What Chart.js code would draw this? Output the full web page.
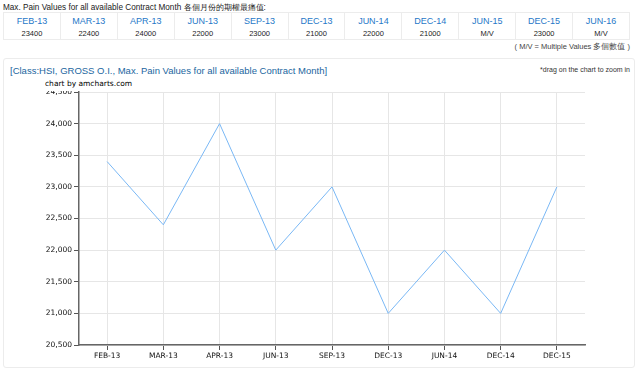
<!DOCTYPE html>
<html>
<head>
<meta charset="utf-8">
<script src="https://cdn.jsdelivr.net/npm/chart.js@4"></script>
<style>
  body { margin: 0; width: 640px; height: 374px; background: #fff; font-family: "Liberation Sans", Arial, sans-serif; position: relative; overflow: hidden; }
  .head { position: absolute; left: 3px; top: 2px; font-size: 8.2px; color: #222; }
  table.mp { position: absolute; left: 3px; top: 12px; width: 627px; border-collapse: collapse; table-layout: fixed; }
  table.mp td { border: 1px solid #ececec; text-align: center; padding: 0; }
  table.mp tr.hd td { color: #1f78c8; font-size: 9px; border-bottom: none; height: 13px; line-height: 13px; padding-top: 2px; }
  table.mp tr.vl td { color: #222; font-size: 7.5px; border-top: none; height: 10px; line-height: 9px; padding-bottom: 1px; }
  .note { position: absolute; right: 10px; top: 42px; font-size: 7.5px; color: #444; }
  .panel { position: absolute; left: 3px; top: 58px; width: 632px; height: 310px; border: 1px solid #ececec; border-radius: 3px; box-sizing: border-box; }
  .title { position: absolute; left: 10px; top: 65px; font-size: 9.5px; color: #2266a0; }
  .drag { position: absolute; right: 10px; top: 66px; font-size: 7px; color: #333; }
  .credit { position: absolute; left: 45px; top: 79px; font-size: 7.5px; line-height: 9px; color: #000; font-family: "DejaVu Sans", Verdana, sans-serif; background: #fff; padding: 0 2px 3px 0; z-index: 2; }
  #wrap { position: absolute; left: 0; top: 80px; width: 600px; height: 290px; }
</style>
</head>
<body>
<div class="head">Max. Pain Values for all available Contract Month 各個月份的期權最痛值:</div>
<table class="mp">
  <tr class="hd" id="hdRow"></tr>
  <tr class="vl" id="vlRow"></tr>
</table>
<div class="note">( M/V = Multiple Values 多個數值 )</div>
<div class="panel"></div>
<div class="title">[Class:HSI, GROSS O.I., Max. Pain Values for all available Contract Month]</div>
<div class="drag">*drag on the chart to zoom in</div>
<div class="credit">chart by amcharts.com</div>
<div id="wrap"><canvas id="chart"></canvas></div>

<script>
// table across the top
const tableMonths = ['FEB-13', 'MAR-13', 'APR-13', 'JUN-13', 'SEP-13', 'DEC-13', 'JUN-14', 'DEC-14', 'JUN-15', 'DEC-15', 'JUN-16'];
const tableValues = ['23400', '22400', '24000', '22000', '23000', '21000', '22000', '21000', 'M/V', '23000', 'M/V'];

// chart series (only months with a single value)
const months = ['FEB-13', 'MAR-13', 'APR-13', 'JUN-13', 'SEP-13', 'DEC-13', 'JUN-14', 'DEC-14', 'DEC-15'];
const maxPain = [23400, 22400, 24000, 22000, 23000, 21000, 22000, 21000, 23000];

const hdRow = document.getElementById('hdRow');
const vlRow = document.getElementById('vlRow');
tableMonths.forEach((m, i) => {
  const a = document.createElement('td');
  a.textContent = m;
  hdRow.appendChild(a);
  const b = document.createElement('td');
  b.textContent = tableValues[i];
  vlRow.appendChild(b);
});

const tickFont = { family: '"DejaVu Sans", Verdana, sans-serif', size: 7.5 };

const ctx = document.getElementById('chart').getContext('2d');
new Chart(ctx, {
  type: 'line',
  data: {
    labels: months,
    datasets: [{
      data: maxPain,
      borderColor: '#7ab8f5',
      borderWidth: 1,
      pointRadius: 0,
      tension: 0,
      fill: false,
    }],
  },
  options: {
    responsive: true,
    maintainAspectRatio: false,
    animation: false,
    layout: { padding: { top: 12, right: 15, left: 0, bottom: 0 } },
    plugins: { legend: { display: false }, tooltip: { enabled: false } },
    scales: {
      x: {
        offset: true,
        grid: { offset: false, color: '#e6e6e6', tickColor: '#555', tickLength: 5 },
        border: { color: '#666', width: 1.5 },
        ticks: { color: '#111', font: tickFont, padding: 2, maxRotation: 0, autoSkip: false },
        afterFit: (s) => { s.height = 25; },
      },
      y: {
        min: 20500,
        max: 24500,
        grid: { color: '#e6e6e6', tickColor: '#555', tickLength: 5 },
        border: { color: '#666', width: 1.5 },
        ticks: {
          stepSize: 500,
          color: '#111',
          font: tickFont,
          padding: 2,
          callback: (v) => v.toLocaleString('en-US'),
        },
        afterFit: (s) => { s.width = 79; },
      },
    },
  },
});
</script>
</body>
</html>
